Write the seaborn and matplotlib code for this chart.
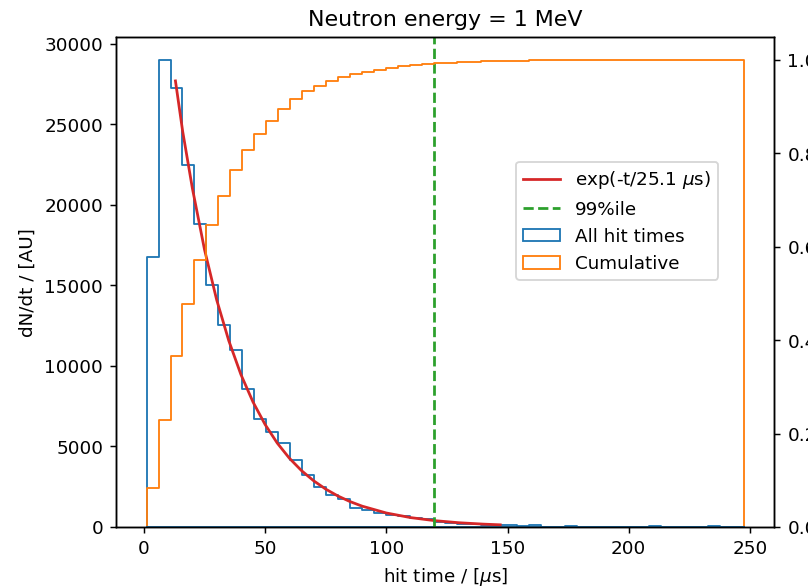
import numpy as np
import matplotlib
matplotlib.use('Agg')
import matplotlib.pyplot as plt
from matplotlib.patches import Rectangle
import seaborn as sns

# hit time histogram, 50 bins between first and last hit (in us)
t_first = 1.1
t_last = 247.7
n_bins = 50
hit_counts = [16760, 29000, 27240, 22490, 18830, 15050, 12520, 10970, 8560, 6680,
              5870, 5190, 4150, 3220, 2460, 1980, 1740, 1200, 1050, 850,
              740, 680, 560, 520, 300, 250, 200, 170, 130, 100,
              150, 60, 150, 0, 0, 60, 0, 0, 0, 0,
              0, 0, 60, 0, 0, 0, 0, 30, 0, 5]

# exponential fit curve
fit_t = [13, 16, 20, 25, 30, 35, 40, 45, 50, 55, 60, 65, 70, 75, 80, 85, 90,
         100, 110, 120, 130, 140, 147]
fit_val = [27700, 24550, 21020, 17220, 14110, 11570, 9470, 7760, 6360, 5210,
           4270, 3500, 2870, 2350, 1925, 1578, 1293, 868, 582, 391, 262, 176, 133]
tau = 25.1
pct99 = 119.7

edges = np.linspace(t_first, t_last, n_bins + 1)
centers = 0.5 * (edges[:-1] + edges[1:])

dpi = 132.6
fig = plt.figure(figsize=(808.4 / dpi, 588.4 / dpi), dpi=dpi)
ax = fig.add_axes([116 / 808, 61 / 588, 658 / 808, 490 / 588])

sns.histplot(x=centers, weights=hit_counts, bins=n_bins, binrange=(t_first, t_last),
             element='step', fill=True,
             color='C0', facecolor='none', edgecolor='C0', linewidth=1.0, alpha=1,
             label='All hit times', ax=ax)
sns.lineplot(x=fit_t, y=fit_val, color='C3', linewidth=1.5,
             label=r'exp(-t/%.1f $\mu$s)' % tau, ax=ax)
ax.axvline(pct99, color='C2', linestyle='--', linewidth=1.5, label='99%ile')
ax.set_xlim(-11.5, 260.1)
ax.set_ylim(0, max(hit_counts) * 1.05)
ax.set_xlabel(r'hit time / [$\mu$s]')
ax.set_ylabel('dN/dt / [AU]')
ax.set_title('Neutron energy = 1 MeV')

ax2 = ax.twinx()
sns.histplot(x=centers, weights=hit_counts, bins=n_bins, binrange=(t_first, t_last),
             element='step', fill=True, cumulative=True, stat='density',
             color='C1', facecolor='none', edgecolor='C1', linewidth=1.0, alpha=1,
             label='Cumulative', ax=ax2)
ax2.set_ylim(0, 1.05)
ax2.set_ylabel('')
ax2.set_xlim(-11.5, 260.1)

# hide the outline's return path along y=0 (step hist has no bottom edge)
clip = Rectangle((0, 0.0022), 1, 1.1, transform=ax2.transAxes)
ax2.collections[-1].set_clip_path(clip)

h1, l1 = ax.get_legend_handles_labels()
h2, l2 = ax2.get_legend_handles_labels()
order = [l1.index(r'exp(-t/%.1f $\mu$s)' % tau), l1.index('99%ile'), l1.index('All hit times')]
handles = [h1[i] for i in order] + h2
labels = [l1[i] for i in order] + l2
if ax.get_legend() is not None:
    ax.get_legend().remove()
ax2.legend(handles, labels, loc='upper right', bbox_to_anchor=(0.915, 0.745),
           borderaxespad=0)

fig.savefig('out.png', dpi=dpi)
